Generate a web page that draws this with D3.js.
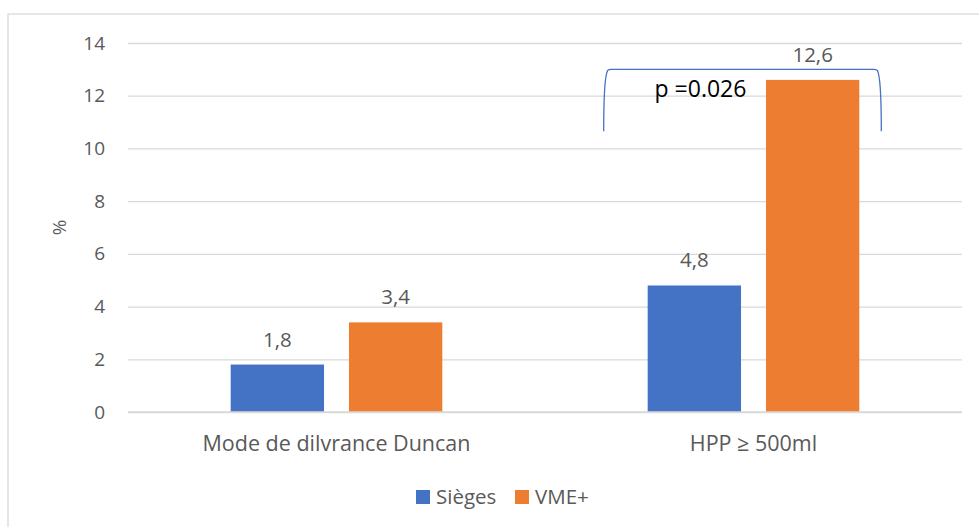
<!DOCTYPE html>
<html>
<head>
<meta charset="utf-8">
<script src="https://cdn.jsdelivr.net/npm/d3@7"></script>
<style>
  html, body { margin: 0; padding: 0; background: #fff; }
  svg { display: block; font-family: "Open Sans", sans-serif; }
</style>
</head>
<body>
<svg id="chart" width="979" height="527"></svg>
<script>
// ── Données ────────────────────────────────────────────────────────────────
const categories = ['Mode de dilvrance Duncan', 'HPP ≥ 500ml'];
const series     = ['Sièges', 'VME+'];
const colors     = ['#4472c4', '#ed7d31'];
const sieges     = [1.8, 4.8];
const vme        = [3.4, 12.6];
const yTicks     = [0, 2, 4, 6, 8, 10, 12, 14];
const pLabel     = 'p =0.026';

const W = 979, H = 527;
const plot = { left: 128, right: 962, top: 43, bottom: 412 };
const grey = '#595959';

const svg = d3.select('#chart');

// Cadre du graphique
svg.append('rect')
  .attr('x', 8).attr('y', 14)
  .attr('width', W + 20).attr('height', H + 20)
  .attr('fill', 'none')
  .attr('stroke', '#d9d9d9')
  .attr('stroke-width', 1.3);

// ── Échelles ───────────────────────────────────────────────────────────────
const y = d3.scaleLinear().domain([0, 14]).range([plot.bottom, plot.top]);

const x0 = d3.scaleBand()
  .domain(categories)
  .range([plot.left, plot.right])
  .paddingInner(0).paddingOuter(0);

const x1 = d3.scaleBand()
  .domain(series)
  .range([0, x0.bandwidth()])
  .paddingInner(0.211)
  .paddingOuter(0.868);

// ── Grille + axe Y ─────────────────────────────────────────────────────────
const yAxis = svg.append('g')
  .attr('transform', `translate(${plot.left},0)`)
  .call(d3.axisLeft(y).tickValues(yTicks).tickSize(-(plot.right - plot.left)).tickPadding(23));

yAxis.select('.domain').remove();
yAxis.selectAll('.tick line')
  .attr('stroke', '#d9d9d9')
  .attr('stroke-width', 1.3);
yAxis.selectAll('.tick text')
  .attr('fill', grey)
  .style('font-size', '19px')
  .style('font-family', '"Open Sans", sans-serif');

// Titre Y
svg.append('text')
  .attr('transform', `translate(66,${(plot.top + plot.bottom) / 2}) rotate(-90)`)
  .attr('text-anchor', 'middle')
  .attr('fill', grey)
  .style('font-size', '19px')
  .text('%');

// ── Barres ─────────────────────────────────────────────────────────────────
const rows = categories.map((c, i) => ({ cat: c, vals: [sieges[i], vme[i]] }));

const groups = svg.append('g').selectAll('g')
  .data(rows)
  .join('g')
  .attr('transform', d => `translate(${x0(d.cat)},0)`);

groups.selectAll('rect')
  .data(d => d.vals.map((v, k) => ({ s: series[k], v, k })))
  .join('rect')
  .attr('x', d => x1(d.s))
  .attr('y', d => y(d.v))
  .attr('width', x1.bandwidth())
  .attr('height', d => y(0) - y(d.v))
  .attr('fill', d => colors[d.k]);

groups.selectAll('text.val')
  .data(d => d.vals.map((v, k) => ({ s: series[k], v, k })))
  .join('text')
  .attr('class', 'val')
  .attr('x', d => x1(d.s) + x1.bandwidth() / 2)
  .attr('y', d => y(d.v) - 18)
  .attr('text-anchor', 'middle')
  .attr('fill', grey)
  .style('font-size', '20.5px')
  .text(d => String(d.v).replace('.', ','));

// Ligne de base (0)
svg.append('line')
  .attr('x1', plot.left).attr('x2', plot.right)
  .attr('y1', y(0)).attr('y2', y(0))
  .attr('stroke', '#d9d9d9').attr('stroke-width', 1.5);

// Libellés catégories
svg.append('g').selectAll('text')
  .data(categories)
  .join('text')
  .attr('x', d => x0(d) + x0.bandwidth() / 2)
  .attr('y', 451)
  .attr('text-anchor', 'middle')
  .attr('fill', grey)
  .style('font-size', '21.5px')
  .text(d => d);

// ── Accolade p-value sur le groupe HPP ─────────────────────────────────────
const hpp = categories[1];
const bl = x0(hpp) + x1(series[0]) - 44;
const br = x0(hpp) + x1(series[1]) + x1.bandwidth() + 22;
const bt = y(13), bb = y(10.65);
svg.append('path')
  .attr('d', `M${bl},${bb} C${bl},${bt + 25} ${bl + 1},${bt + 6} ${bl + 4},${bt + 1}
              Q${bl + 5},${bt} ${bl + 8},${bt} L${br - 8},${bt}
              Q${br - 5},${bt} ${br - 4},${bt + 1} C${br - 1},${bt + 6} ${br},${bt + 25} ${br},${bb}`)
  .attr('fill', 'none')
  .attr('stroke', colors[0])
  .attr('stroke-width', 1.3);

svg.append('text')
  .attr('x', (bl + br) / 2 - 42)
  .attr('y', 97)
  .attr('text-anchor', 'middle')
  .attr('fill', '#000')
  .style('font-size', '23px')
  .text(pLabel);

// ── Légende ────────────────────────────────────────────────────────────────
const legendX = [416, 515];
const legend = svg.append('g').selectAll('g')
  .data(series)
  .join('g')
  .attr('transform', (d, i) => `translate(${legendX[i]},490)`);

legend.append('rect')
  .attr('width', 14).attr('height', 14)
  .attr('fill', (d, i) => colors[i]);

legend.append('text')
  .attr('x', 20).attr('y', 14)
  .attr('fill', grey)
  .style('font-size', '20.5px')
  .text(d => d);
</script>
</body>
</html>
